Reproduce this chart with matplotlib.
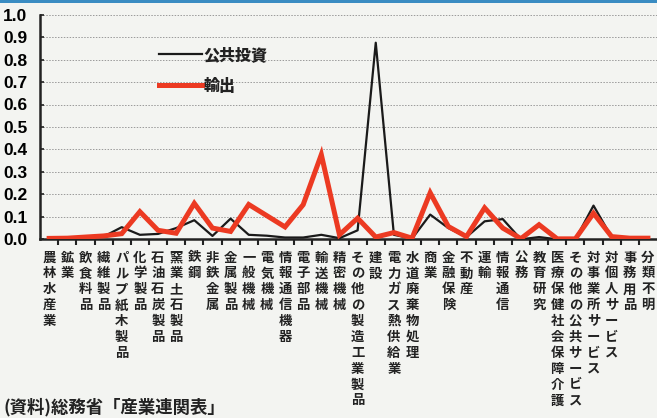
import matplotlib
matplotlib.use("Agg")
import matplotlib.pyplot as plt
from matplotlib.patches import Rectangle

plt.rcParams['font.family'] = ['Noto Sans CJK JP', 'DejaVu Sans']

# 産業分類
categories = ['農林水産業', '鉱業', '飲食料品', '繊維製品', 'パルプ紙木製品', '化学製品',
              '石油石炭製品', '窯業土石製品', '鉄鋼', '非鉄金属', '金属製品', '一般機械',
              '電気機械', '情報通信機器', '電子部品', '輸送機械', '精密機械',
              'その他の製造工業製品', '建設', '電力ガス熱供給業', '水道廃棄物処理', '商業',
              '金融保険', '不動産', '運輸', '情報通信', '公務', '教育研究',
              '医療保健社会保障介護', 'その他の公共サービス', '対事業所サービス',
              '対個人サービス', '事務用品', '分類不明']

public_inv = [0.003, 0.005, 0.008, 0.012, 0.054, 0.02, 0.024, 0.05, 0.085, 0.015,
              0.092, 0.02, 0.016, 0.008, 0.008, 0.02, 0.005, 0.04, 0.875, 0.02,
              0.003, 0.11, 0.05, 0.01, 0.08, 0.09, 0.0, 0.01, 0.0, 0.0,
              0.15, 0.01, 0.005, 0.003]

exports = [0.004, 0.005, 0.01, 0.015, 0.025, 0.123, 0.04, 0.027, 0.16, 0.05,
           0.035, 0.155, 0.105, 0.055, 0.154, 0.377, 0.02, 0.094, 0.01, 0.03,
           0.005, 0.207, 0.057, 0.012, 0.14, 0.05, 0.003, 0.065, 0.002, 0.002,
           0.116, 0.012, 0.005, 0.005]

yticks = [0.0, 0.1, 0.2, 0.3, 0.4, 0.5, 0.6, 0.7, 0.8, 0.9, 1.0]

fig = plt.figure(figsize=(6.57, 4.18), dpi=100)
fig.patch.set_facecolor('#f3f4f1')
fig.patches.append(Rectangle((0, 0.994), 1, 0.006, transform=fig.transFigure,
                             facecolor='#3a8cc2', edgecolor='none'))

ax = fig.add_axes([0.061, 0.4275, 0.939, 0.5375])
ax.set_facecolor('#f3f4f1')

x = list(range(len(categories)))
ax.plot(x, public_inv, color='#1a1a1a', lw=1.6, label='公共投資', zorder=3)
ax.plot(x, exports, color='#ec3a22', lw=3.6, label='輸出', zorder=4,
        solid_joinstyle='miter')

ax.set_xlim(-0.5, 33.5)
ax.set_ylim(0, 1.0)
ax.set_yticks(yticks)
ax.set_yticklabels(['%.1f' % v for v in yticks], fontsize=12.5, fontweight='bold',
                   family=['Liberation Sans', 'DejaVu Sans'])
ax.yaxis.grid(True, linestyle=(0, (1.5, 1.5)), color='#9a9a9a', lw=0.7)
ax.set_axisbelow(True)

ax.set_xticks([i + 0.5 for i in x[:-1]])
ax.set_xticklabels([])
ax.tick_params(axis='x', direction='out', length=4, width=1.5, color='#222222')
ax.tick_params(axis='y', direction='in', length=3, width=1.2, color='#222222', pad=9)

for side in ['top', 'right']:
    ax.spines[side].set_visible(False)
for side in ['left', 'bottom']:
    ax.spines[side].set_linewidth(1.8)
    ax.spines[side].set_color('#222222')

# 縦書きラベル
for i, name in enumerate(categories):
    ax.text(i, -0.05, '\n'.join(name), ha='center', va='top', fontsize=9.6,
            fontweight='bold', color='#222222', linespacing=1.17,
            transform=ax.get_xaxis_transform(), clip_on=False)

leg = ax.legend(loc='upper left', bbox_to_anchor=(0.17, 0.92), frameon=False,
                handlelength=2.7, handletextpad=0.05, labelspacing=0.95,
                prop={'weight': 'heavy', 'size': 11.5})
for t in leg.get_texts():
    t.set_color('#222222')

fig.text(0.006, 0.026, '(資料)総務省「産業連関表」', fontsize=12.5, fontweight='bold',
         color='#222222', ha='left', va='center')

fig.savefig('out.png', dpi=100, facecolor=fig.get_facecolor())
